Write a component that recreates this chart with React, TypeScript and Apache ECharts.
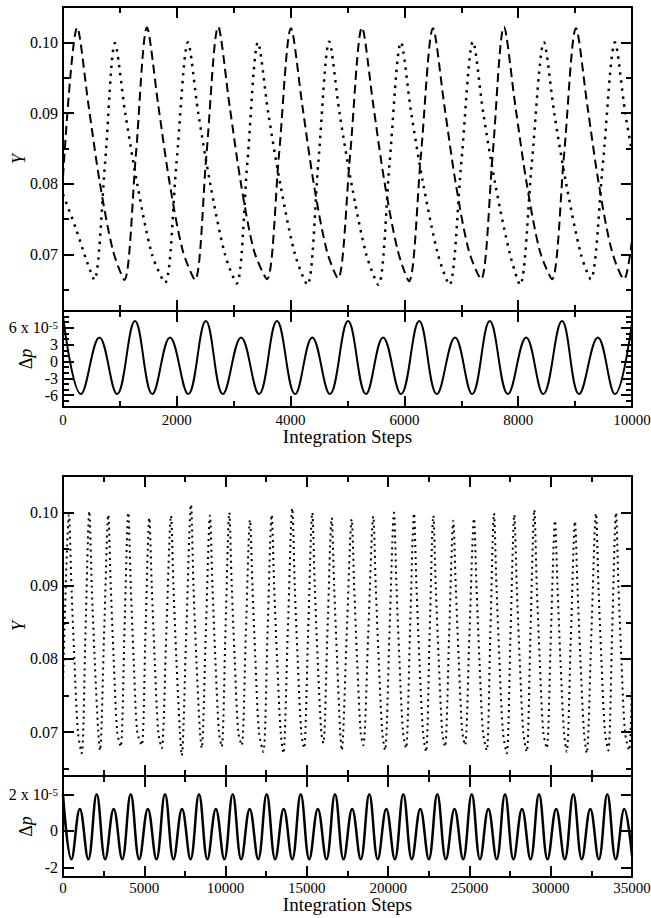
import React, { useEffect, useRef } from "react";
import * as echarts from "echarts";

const FONT = "Liberation Serif, Times New Roman, serif";
const BLACK = "#000";

// ---------- Top figure: 0..10000 integration steps ----------
const topXMax = 10000;
const topXStep = 2000;
const topYRange = [0.062, 0.105];
const topYLabels = [0.07, 0.08, 0.09, 0.1];
const topYMinor = [0.065, 0.075, 0.085, 0.095];
const topDpRange = [-8.1, 9.0];
const topDpLabels = [-6, -3, 0, 3, 6];
const topDpMinor = [-8, -7, -5, -4, -2, -1, 1, 2, 4, 5, 7, 8, 9];

// Y, dashed curve [step, Y]
const topDashed = [
  [0, 0.081], [250, 0.1021], [450, 0.091], [650, 0.08], [880, 0.0705], [1078, 0.0664], [1280, 0.084],
  [1476, 0.1021], [1676, 0.091], [1876, 0.08], [2106, 0.0705], [2320, 0.0664], [2520, 0.084],
  [2728, 0.1022], [2928, 0.091], [3128, 0.08], [3358, 0.0705], [3585, 0.0665], [3795, 0.084],
  [4007, 0.102], [4207, 0.091], [4407, 0.08], [4637, 0.0705], [4833, 0.0666], [5045, 0.084],
  [5255, 0.1021], [5455, 0.091], [5655, 0.08], [5885, 0.0705], [6081, 0.0662], [6290, 0.084],
  [6503, 0.102], [6703, 0.091], [6903, 0.08], [7133, 0.0705], [7346, 0.0665], [7550, 0.084],
  [7750, 0.1022], [7950, 0.091], [8150, 0.08], [8380, 0.0705], [8594, 0.0665], [8805, 0.084],
  [9016, 0.102], [9216, 0.091], [9416, 0.08], [9646, 0.0705], [9860, 0.0665], [10000, 0.072],
];

// Y, dotted curve [step, Y]
const topDotted = [
  [0, 0.0785], [220, 0.0738], [420, 0.069], [550, 0.0664], [740, 0.083], [914, 0.0999],
  [1094, 0.09], [1304, 0.08], [1564, 0.07], [1793, 0.066], [1995, 0.083], [2197, 0.1],
  [2377, 0.09], [2587, 0.08], [2847, 0.07], [3052, 0.0659], [3240, 0.083], [3427, 0.1],
  [3607, 0.09], [3817, 0.08], [4077, 0.07], [4294, 0.0657], [4487, 0.083], [4680, 0.1001],
  [4860, 0.09], [5070, 0.08], [5330, 0.07], [5542, 0.0657], [5740, 0.083], [5940, 0.1],
  [6120, 0.09], [6330, 0.08], [6590, 0.07], [6790, 0.0657], [7000, 0.083], [7206, 0.1001],
  [7386, 0.09], [7596, 0.08], [7856, 0.07], [8032, 0.0657], [8240, 0.083], [8453, 0.1],
  [8633, 0.09], [8843, 0.08], [9103, 0.07], [9274, 0.0665], [9490, 0.083], [9701, 0.1],
  [9881, 0.09], [10000, 0.0845],
];

// Δp (units of 1e-5) [step, Δp]
const topDp = [
  [0, 8.0], [316, -5.8], [640, 4.3], [950, -5.8], [1265, 7.2], [1570, -5.8], [1880, 4.3],
  [2200, -5.8], [2510, 7.2], [2810, -5.8], [3130, 4.3], [3445, -5.8], [3760, 7.2], [4080, -5.8],
  [4380, 4.3], [4690, -5.8], [5010, 7.2], [5325, -5.8], [5625, 4.3], [5940, -5.8], [6260, 7.2],
  [6570, -5.8], [6890, 4.3], [7190, -5.8], [7500, 7.2], [7820, -5.8], [8140, 4.3], [8440, -5.8],
  [8770, 7.2], [9070, -5.8], [9400, 4.3], [9700, -5.8], [10000, 6.9],
];

// ---------- Bottom figure: 0..35000 integration steps ----------
const botXMax = 35000;
const botXStep = 5000;
const botYRange = [0.064, 0.105];
const botYLabels = [0.07, 0.08, 0.09, 0.1];
const botYMinor = [0.065, 0.075, 0.085, 0.095];
const botDpRange = [-2.52, 3.0];
const botDpLabels = [-2, 0, 2];

const botDotted = [
  [0, 0.0765], [369, 0.0997],
  [519, 0.09], [699, 0.08], [919, 0.07], [1150, 0.0671], [1384, 0.0836], [1618, 0.1002],
  [1768, 0.09], [1948, 0.08], [2168, 0.07], [2276, 0.0675], [2530, 0.0836], [2787, 0.0997],
  [2937, 0.09], [3117, 0.08], [3337, 0.07], [3549, 0.068], [3783, 0.084], [4017, 0.1],
  [4167, 0.09], [4347, 0.08], [4567, 0.07], [4841, 0.0682], [5075, 0.0838], [5309, 0.0993],
  [5459, 0.09], [5639, 0.08], [5859, 0.07], [6071, 0.0678], [6357, 0.0837], [6643, 0.0996],
  [6793, 0.09], [6973, 0.08], [7193, 0.07], [7302, 0.0668], [7588, 0.084], [7874, 0.1011],
  [8024, 0.09], [8204, 0.08], [8424, 0.07], [8532, 0.0678], [8787, 0.0837], [9042, 0.0996],
  [9192, 0.09], [9372, 0.08], [9592, 0.07], [9762, 0.068], [9996, 0.084], [10230, 0.1],
  [10380, 0.09], [10560, 0.08], [10780, 0.07], [10992, 0.0682], [11248, 0.0836], [11503, 0.099],
  [11653, 0.09], [11833, 0.08], [12053, 0.07], [12321, 0.0673], [12580, 0.0835], [12838, 0.0997],
  [12988, 0.09], [13168, 0.08], [13388, 0.07], [13551, 0.0671], [13828, 0.0838], [14105, 0.1006],
  [14255, 0.09], [14435, 0.08], [14655, 0.07], [14825, 0.0678], [15080, 0.0839], [15335, 0.1],
  [15485, 0.09], [15665, 0.08], [15885, 0.07], [16012, 0.0685], [16270, 0.0839], [16528, 0.0993],
  [16678, 0.09], [16858, 0.08], [17050, 0.07], [17144, 0.0675], [17450, 0.0833], [17759, 0.0991],
  [17909, 0.09], [18089, 0.08], [18309, 0.07], [18472, 0.0682], [18780, 0.0838], [19087, 0.0995],
  [19237, 0.09], [19417, 0.08], [19637, 0.07], [19807, 0.0675], [20084, 0.0837], [20361, 0.1],
  [20511, 0.09], [20691, 0.08], [20911, 0.07], [21099, 0.0678], [21345, 0.0838], [21591, 0.0999],
  [21741, 0.09], [21921, 0.08], [22141, 0.07], [22329, 0.0673], [22554, 0.0835], [22778, 0.0996],
  [22928, 0.09], [23108, 0.08], [23328, 0.07], [23498, 0.068], [23754, 0.0834], [24009, 0.0989],
  [24159, 0.09], [24339, 0.08], [24559, 0.07], [24728, 0.0682], [25005, 0.0837], [25282, 0.0992],
  [25432, 0.09], [25612, 0.08], [25832, 0.07], [26063, 0.0675], [26288, 0.0837], [26512, 0.0999],
  [26662, 0.09], [26842, 0.08], [27062, 0.07], [27293, 0.0671], [27527, 0.0834], [27761, 0.0997],
  [27911, 0.09], [28091, 0.08], [28311, 0.07], [28523, 0.0673], [28757, 0.0839], [28991, 0.1004],
  [29141, 0.09], [29321, 0.08], [29541, 0.07], [29754, 0.0678], [30010, 0.0833], [30265, 0.0989],
  [30415, 0.09], [30595, 0.08], [30815, 0.07], [30984, 0.0673], [31240, 0.0831], [31495, 0.0988],
  [31645, 0.09], [31825, 0.08], [32045, 0.07], [32214, 0.0671], [32500, 0.0835], [32786, 0.0999],
  [32936, 0.09], [33116, 0.08], [33336, 0.07], [33543, 0.0675], [33780, 0.0838], [34017, 0.1],
  [34167, 0.09], [34347, 0.08], [34567, 0.07], [34820, 0.0675], [35000, 0.077],
];

const botDp = [
  [0, 2.0], [518, -1.55], [1036, 1.2], [1555, -1.55], [2073, 2.0], [2595, -1.55], [3118, 1.2],
  [3641, -1.55], [4164, 2.0], [4690, -1.55], [5219, 1.2], [5746, -1.55], [6274, 2.0], [6797, -1.55],
  [7320, 1.2], [7843, -1.55], [8366, 2.0], [8884, -1.55], [9402, 1.2], [9920, -1.55], [10439, 2.0],
  [10961, -1.55], [11484, 1.2], [12007, -1.55], [12530, 2.0], [13053, -1.55], [13576, 1.2],
  [14099, -1.55], [14622, 2.0], [15149, -1.55], [15676, 1.2], [16204, -1.55], [16731, 2.0],
  [17258, -1.55], [17786, 1.2], [18313, -1.55], [18841, 2.0], [19364, -1.55], [19887, 1.2],
  [20410, -1.55], [20933, 2.0], [21455, -1.55], [21978, 1.2], [22501, -1.55], [23024, 2.0],
  [23553, -1.55], [24082, 1.2], [24611, -1.55], [25140, 2.0], [25652, -1.55], [26164, 1.2],
  [26676, -1.55], [27188, 2.0], [27711, -1.55], [28234, 1.2], [28757, -1.55], [29280, 2.0],
  [29807, -1.55], [30335, 1.2], [30862, -1.55], [31390, 2.0], [31912, -1.55], [32435, 1.2],
  [32958, -1.55], [33481, 2.0], [34003, -1.55], [34526, 1.2], [35000, -1.35],
];

// ---------- layout ----------
const LEFT = 63;
const WIDTH = 569;
const grids = [
  { top: 7, height: 304 },
  { top: 311, height: 96 },
  { top: 476, height: 300 },
  { top: 776, height: 101 },
];

const lineStyle = { color: BLACK, width: 2 };

function xPair(grid: number, max: number, interval: number, labelled: boolean, labelMargin: number, nameGap: number) {
  const common: any = {
    type: "value",
    gridIndex: grid,
    min: 0,
    max,
    interval,
    axisLine: { show: true, onZero: false, lineStyle },
    axisTick: { show: true, inside: true, length: 11, lineStyle },
    minorTick: { show: true, splitNumber: 2, length: 6, lineStyle },
    splitLine: { show: false },
    minorSplitLine: { show: false },
  };
  const bottom: any = {
    ...common,
    position: "bottom",
    axisLabel: labelled
      ? {
          show: true,
          margin: labelMargin,
          fontSize: 15,
          color: BLACK,
          fontFamily: FONT,
          formatter: (v: number) => String(Math.round(v)),
        }
      : { show: false },
  };
  if (labelled) {
    bottom.name = "Integration Steps";
    bottom.nameLocation = "middle";
    bottom.nameGap = nameGap;
    bottom.nameMoveOverlap = false;
    bottom.nameTextStyle = { fontSize: 19, color: BLACK, fontFamily: FONT };
  }
  const top: any = { ...common, position: "top", axisLabel: { show: false } };
  return [bottom, top];
}

function yGroup(
  grid: number,
  range: number[],
  labels: number[],
  minor: number[] | null,
  fmt: (v: number) => string,
  name: string,
  nameGap: number,
  nameTextStyle: any,
  rich: any
) {
  const base: any = {
    type: "value",
    gridIndex: grid,
    min: range[0],
    max: range[1],
    splitLine: { show: false },
  };
  const out: any[] = [];
  out.push({
    ...base,
    position: "left",
    axisLine: { show: true, onZero: false, lineStyle },
    axisTick: { show: true, inside: true, length: 11, customValues: labels, lineStyle },
    axisLabel: {
      show: true,
      customValues: labels,
      formatter: fmt,
      margin: 5,
      fontSize: 16,
      color: BLACK,
      fontFamily: FONT,
      rich,
    },
    name,
    nameLocation: "middle",
    nameGap,
    nameRotate: 90,
    nameMoveOverlap: false,
    nameTextStyle,
  });
  out.push({
    ...base,
    position: "right",
    axisLine: { show: true, onZero: false, lineStyle },
    axisTick: { show: true, inside: true, length: 11, customValues: labels, lineStyle },
    axisLabel: { show: false },
  });
  if (minor) {
    out.push({
      ...base,
      position: "left",
      axisLine: { show: false, onZero: false },
      axisTick: { show: true, inside: true, length: 6, customValues: minor, lineStyle },
      axisLabel: { show: false },
    });
    out.push({
      ...base,
      position: "right",
      axisLine: { show: false, onZero: false },
      axisTick: { show: true, inside: true, length: 6, customValues: minor, lineStyle },
      axisLabel: { show: false },
    });
  }
  return out;
}

const supRich = {
  m: { fontSize: 16, fontFamily: FONT, color: BLACK },
  s: { fontSize: 11, fontFamily: FONT, color: BLACK, verticalAlign: "top" },
};
const yNameStyle = { fontSize: 18, fontStyle: "italic", color: BLACK, fontFamily: FONT };
const dpNameStyle = {
  fontSize: 18,
  color: BLACK,
  fontFamily: FONT,
  rich: {
    d: { fontSize: 18, fontFamily: FONT, color: BLACK },
    p: { fontSize: 18, fontFamily: FONT, color: BLACK, fontStyle: "italic" },
  },
};

export default function App() {
  const ref = useRef<HTMLDivElement>(null);
  useEffect(() => {
    if (!ref.current) return;
    const chart = echarts.init(ref.current, null, { renderer: "svg" });

    const xAxis = [
      ...xPair(0, topXMax, topXStep, false, 5, 20),
      ...xPair(1, topXMax, topXStep, true, 5, 20),
      ...xPair(2, botXMax, botXStep, false, 3, 18),
      ...xPair(3, botXMax, botXStep, true, 3, 18),
    ];

    const yA = yGroup(0, topYRange, topYLabels, topYMinor, (v) => v.toFixed(2), "Y", 35, yNameStyle, undefined);
    const yB = yGroup(
      1, topDpRange, topDpLabels, topDpMinor,
      (v) => (Math.abs(v - 6) < 1e-9 ? "{m|6 x 10}{s|-5}" : String(Math.round(v))),
      "{d|Δ}{p|p}", 28, dpNameStyle, supRich
    );
    const yC = yGroup(2, botYRange, botYLabels, botYMinor, (v) => v.toFixed(2), "Y", 35, yNameStyle, undefined);
    const yD = yGroup(
      3, botDpRange, botDpLabels, null,
      (v) => (Math.abs(v - 2) < 1e-9 ? "{m|2 x 10}{s|-5}" : String(Math.round(v))),
      "{d|Δ}{p|p}", 28, dpNameStyle, supRich
    );
    const iA = 0;
    const iB = yA.length;
    const iC = iB + yB.length;
    const iD = iC + yC.length;
    const yAxis = [...yA, ...yB, ...yC, ...yD];

    const base = { type: "line", showSymbol: false, silent: true, animation: false };

    chart.setOption({
      animation: false,
      textStyle: { fontFamily: FONT },
      grid: grids.map((g) => ({
        left: LEFT,
        width: WIDTH,
        top: g.top,
        height: g.height,
        containLabel: false,
        outerBoundsMode: "none",
      })),
      xAxis,
      yAxis,
      series: [
        {
          ...base, name: "Y (dashed)", xAxisIndex: 0, yAxisIndex: iA, data: topDashed, smooth: 0.3,
          lineStyle: { color: BLACK, width: 2, type: [9, 5] },
        },
        {
          ...base, name: "Y (dotted)", xAxisIndex: 0, yAxisIndex: iA, data: topDotted, smooth: 0.3,
          lineStyle: { color: BLACK, width: 2.5, type: [2.5, 5.5] },
        },
        {
          ...base, name: "Δp", xAxisIndex: 2, yAxisIndex: iB, data: topDp, smooth: 0.4,
          lineStyle: { color: BLACK, width: 2 },
        },
        {
          ...base, name: "Y (long run)", xAxisIndex: 4, yAxisIndex: iC, data: botDotted, smooth: 0.3,
          lineStyle: { color: BLACK, width: 2, type: [2, 4] },
        },
        {
          ...base, name: "Δp (long run)", xAxisIndex: 6, yAxisIndex: iD, data: botDp, smooth: 0.4,
          lineStyle: { color: BLACK, width: 2.5 },
        },
      ],
    });
    return () => chart.dispose();
  }, []);

  return (
    <div
      ref={ref}
      style={{ position: "absolute", left: 0, top: 0, width: 651, height: 918, background: "#fff" }}
    />
  );
}
